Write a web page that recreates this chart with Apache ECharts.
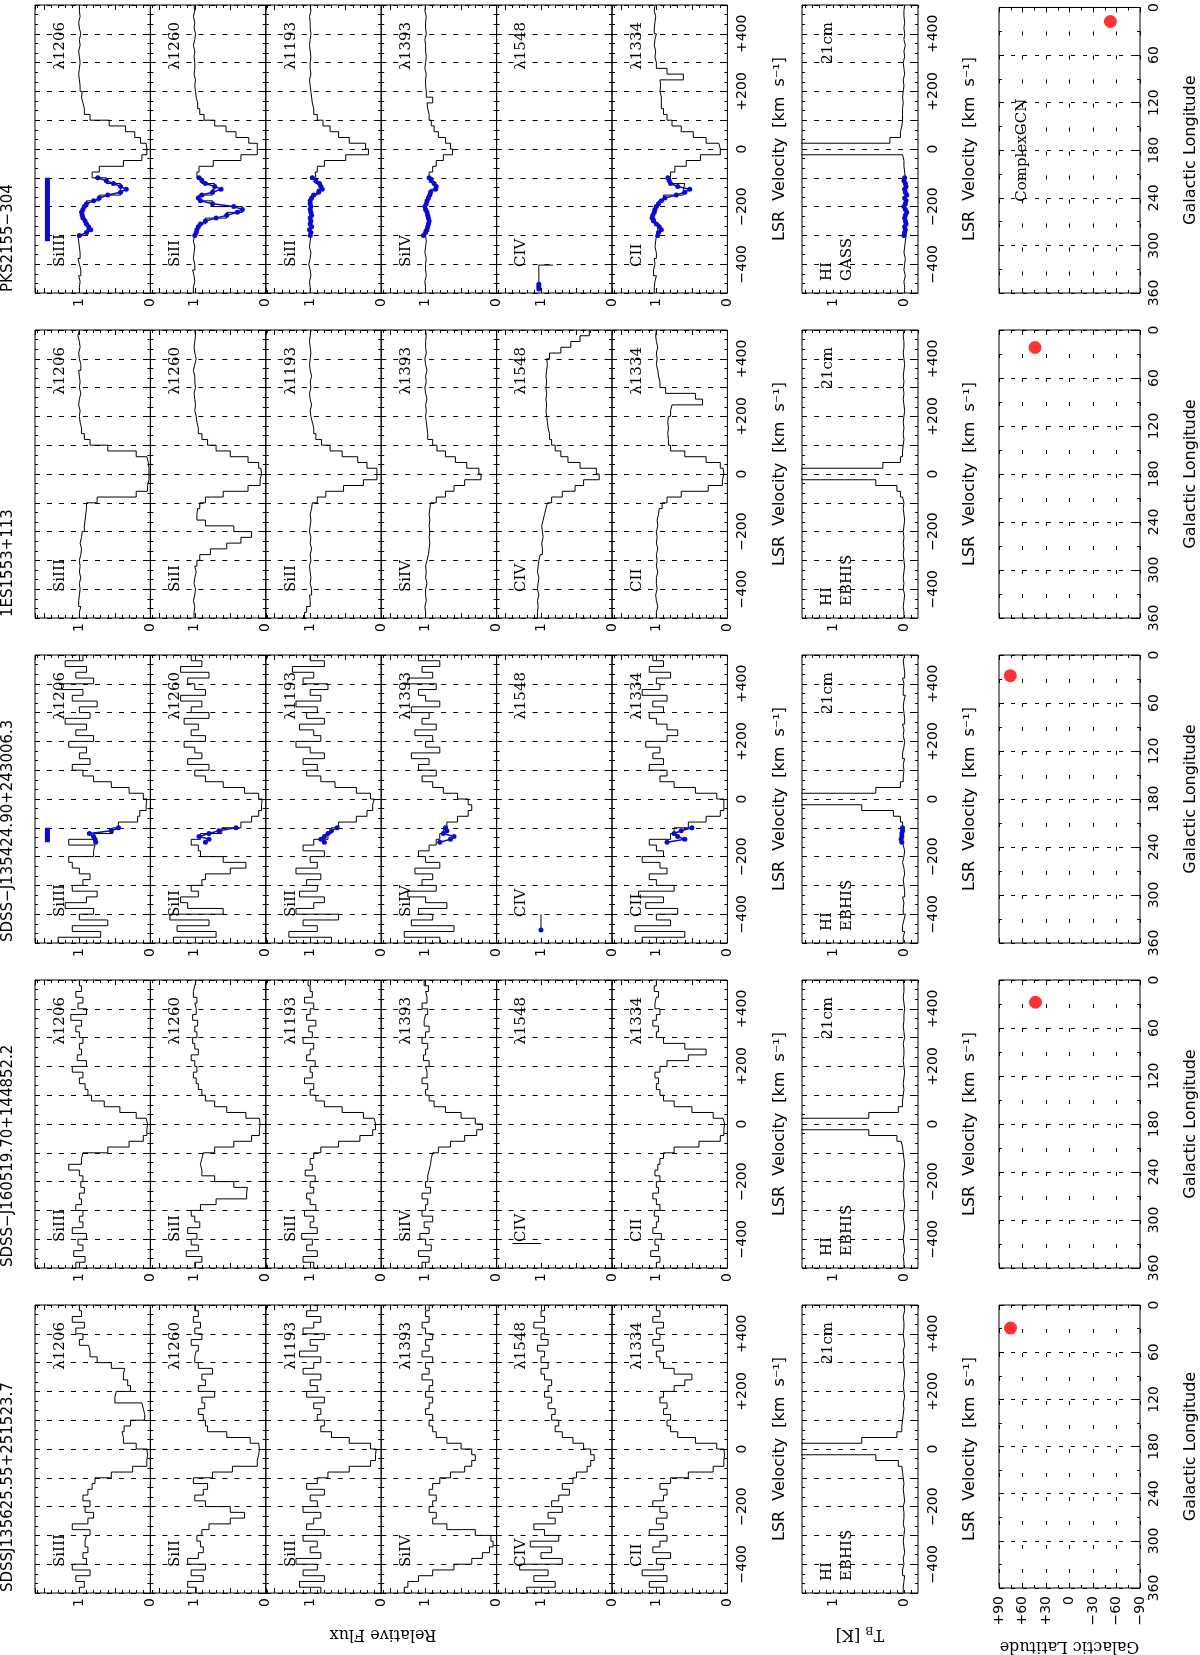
<!DOCTYPE html>
<html><head><meta charset="utf-8">
<script src="https://cdn.jsdelivr.net/npm/echarts@6/dist/echarts.min.js"></script>
<style>html,body{margin:0;padding:0;background:#fff}#c{width:1200px;height:1655px}</style>
</head><body><div id="c"></div>
<script>
// ---------------- DATA ----------------
const velocityBins = [-490,-470,-450,-430,-410,-390,-370,-350,-330,-310,-290,-270,-250,-230,-210,-190,-170,-150,-130,-110,-90,-70,-50,-30,-10,10,30,50,70,90,110,130,150,170,190,210,230,250,270,290,310,330,350,370,390,410,430,450,470,490];
const binHalfWidth = 10;
const sightlineNames = ['PKS2155\u2212304','1ES1553+113','SDSS\u2212J135424.90+243006.3','SDSS\u2212J160519.70+144852.2','SDSSJ135625.55+251523.7'];
const ionNames = ['SiIII','SiII','SiII','SiIV','CIV','CII'];
const ionWaves = ['\u03bb1206','\u03bb1260','\u03bb1193','\u03bb1393','\u03bb1548','\u03bb1334'];
const hiSurveys = ['GASS','EBHIS','EBHIS','EBHIS','EBHIS'];
const galLongitude = [17.7, 21.9, 25.9, 27.8, 29.3];
const galLatitude = [-52.2, 44.0, 75.6, 43.4, 75.3];
const velTickLabels = {'-400':'\u2212400','-200':'\u2212200','0':'0','200':'+200','400':'+400'};
const latTickLabels = {'90':'+90','60':'+60','30':'+30','0':'0','-30':'\u221230','-60':'\u221260','-90':'\u221290'};

// PKS2155-304
const pksSiIII = [1.0,0.99,1.01,0.98,1.0,1.02,0.99,1.0,1.01,1.02, 0.9,0.87,0.92,0.96,0.95,0.9,0.72,0.42,0.42,0.62, 0.82,0.72,0.38,0.12,0.05,0.06,0.14,0.22,0.35,0.58, 0.85,0.93,0.95,0.97,0.96,0.99,1.0,1.01,1.0,0.99, 1.0,1.01,0.99,1.0,0.98,1.0,1.01,0.99,1.0,1.0];
const pksSiII1260 = [1.02,1.0,1.01,1.03,1.0,1.02,1.01,1.0,1.02,1.0, 0.98,0.95,0.85,0.55,0.33,0.75,0.95,0.75,0.72,0.9, 0.97,0.94,0.74,0.35,0.12,0.12,0.24,0.42,0.56,0.72, 0.87,0.93,0.96,0.98,0.99,1.0,0.99,1.01,1.0,1.0, 1.01,1.0,1.02,1.0,0.99,1.01,1.0,1.02,1.0,1.01];
const pksSiII1193 = [1.0,1.01,0.99,1.0,1.02,1.0,0.99,1.01,1.0,0.99, 1.0,0.98,1.0,0.99,1.0,1.0,0.98,0.9,0.84,0.92, 0.93,0.9,0.8,0.5,0.18,0.22,0.45,0.6,0.72,0.82, 0.9,0.95,0.97,0.98,0.99,1.0,1.01,0.99,1.0,1.0, 0.99,1.0,1.01,1.0,0.99,1.0,1.0,1.01,0.99,1.0];
const pksSiIV = [1.0,1.01,0.99,1.0,1.0,0.99,1.01,1.0,0.99,1.0, 1.02,0.97,0.95,0.97,1.0,0.99,0.97,0.93,0.86,0.9, 0.95,0.9,0.85,0.75,0.62,0.65,0.72,0.82,0.88,0.92, 0.95,0.97,0.98,0.9,0.99,1.0,1.0,0.99,1.01,1.0, 0.99,1.0,1.0,1.01,0.99,1.0,1.0,0.99,1.01,1.0];
const pksCII = [1.03,1.02,1.0,1.04,1.02,1.03,1.0,1.02,1.01,1.0, 0.98,0.96,1.02,1.05,1.02,0.97,0.9,0.62,0.6,0.8, 0.8,0.74,0.58,0.38,0.1,0.12,0.3,0.48,0.65,0.78, 0.85,0.9,0.93,0.93,0.95,0.94,0.95,0.62,0.85,1.0, 1.02,1.01,1.03,1.02,1.0,1.03,1.02,1.01,1.03,1.02];
const pksHI = [-0.01,0.0,-0.02,0.0,-0.01,-0.02,0.0,-0.01,-0.02,-0.03, -0.02,-0.03,-0.01,-0.03,-0.02,-0.04,-0.02,-0.03,-0.01,-0.02, -0.01,0.0,0.0,0.02,2.5,2.5,0.2,0.05,0.03,0.02, 0.02,0.02,0.01,0.02,0.01,0.0,0.01,-0.01,0.0,0.01, -0.01,0.0,-0.02,0.0,-0.01,0.0,-0.01,0.0,0.0,-0.01];
const pksBlueVel = [-300,-290,-280,-270,-260,-250,-240,-230,-220,-210,-200,-190,-180,-170,-160,-150,-140,-130,-120,-110,-100];
const pksBlueSiIII = [1.0,0.9,0.84,0.87,0.9,0.92,0.95,0.96,0.97,0.95,0.93,0.9,0.8,0.72,0.6,0.42,0.34,0.42,0.52,0.62,0.74];
const pksBlueSiII1260 = [1.0,0.98,0.97,0.95,0.92,0.85,0.7,0.55,0.4,0.33,0.45,0.75,0.92,0.95,0.9,0.75,0.63,0.72,0.85,0.9,0.94];
const pksBlueSiII1193 = [1.0,0.99,1.01,0.98,1.0,0.99,1.0,0.98,0.99,1.0,0.99,1.0,1.0,0.98,0.95,0.88,0.83,0.85,0.87,0.92,0.97];
const pksBlueSiIV = [1.03,1.0,0.98,0.97,0.96,0.95,0.96,0.97,0.98,1.0,1.01,0.99,0.98,0.96,0.94,0.93,0.86,0.85,0.88,0.92,0.95];
const pksBlueCII = [0.98,0.97,0.93,0.96,1.0,1.04,1.06,1.05,1.03,1.02,1.0,0.97,0.93,0.88,0.72,0.6,0.53,0.7,0.8,0.82,0.84];
const pksBlueHI = [0.0,-0.01,-0.02,-0.01,-0.03,-0.02,-0.01,-0.02,-0.04,-0.02,0.0,-0.02,-0.03,-0.01,-0.04,-0.02,-0.01,-0.03,-0.02,0.0,-0.01];
const pksHvcBar = [-320,-100];
const pksCivMarkLine = [[0.83,-403],[1.03,-403],[1.03,-468]];
const pksCivMarkDot = [[1.03,-470],[1.03,-478],[1.03,-486]];

// 1ES1553+113
const esSiIII = [1.0,0.98,1.01,1.0,0.99,1.0,0.98,1.0,0.99,1.0, 0.98,0.97,0.99,0.97,0.96,0.93,0.92,0.91,0.9,0.9, 0.75,0.2,0.04,0.02,0.02,0.02,0.03,0.05,0.2,0.6, 0.85,0.93,0.97,0.99,1.0,0.99,1.01,1.0,0.98,1.0, 0.99,1.0,1.01,0.98,1.0,1.01,0.99,1.0,1.02,1.0];
const esSiII1260 = [1.01,1.0,1.02,1.0,0.99,1.01,1.0,0.98,1.0,0.97, 0.93,0.78,0.55,0.35,0.2,0.45,0.85,0.97,0.96,0.93, 0.85,0.6,0.25,0.08,0.06,0.07,0.1,0.25,0.5,0.7, 0.82,0.9,0.95,0.97,0.98,1.0,0.99,1.0,1.01,0.99, 1.0,1.0,1.02,1.0,0.98,1.0,1.01,1.0,0.99,1.0];
const esSiII1193 = [1.08,1.05,1.0,1.01,0.98,1.0,0.99,1.0,1.01,0.99, 1.0,0.98,1.0,0.99,1.01,1.0,0.99,1.0,0.98,0.97, 0.9,0.78,0.53,0.25,0.06,0.06,0.2,0.33,0.55,0.72, 0.84,0.92,0.95,0.97,0.99,1.0,0.98,1.0,1.01,0.99, 1.0,0.98,1.0,1.01,1.0,0.99,1.0,1.01,1.0,0.99];
const esSiIV = [1.0,1.01,0.99,1.0,1.0,0.98,1.0,0.99,1.0,0.98, 0.96,0.95,0.94,0.95,0.94,0.95,0.94,0.95,0.94,0.93, 0.85,0.72,0.6,0.45,0.22,0.25,0.42,0.58,0.72,0.84, 0.9,0.97,0.98,0.99,1.0,0.99,1.0,0.98,1.0,1.01, 0.99,1.0,0.98,1.0,1.01,0.99,1.0,1.0,0.99,1.0];
const esCIV = [1.05,1.04,1.05,1.03,1.05,1.04,1.03,1.05,1.04,1.03, 1.01,0.98,0.99,0.97,0.98,0.99,0.97,0.95,0.93,0.91, 0.85,0.7,0.52,0.4,0.18,0.22,0.45,0.62,0.72,0.8, 0.85,0.88,0.9,0.91,0.92,0.93,0.92,0.93,0.92,0.93, 0.92,0.93,0.92,0.91,0.92,0.88,0.72,0.58,0.45,0.32];
const esCII = [1.0,0.98,1.0,1.01,0.99,1.0,1.0,0.98,1.0,0.99, 1.0,0.98,1.0,0.99,1.0,0.98,0.99,0.97,0.96,0.92, 0.85,0.65,0.27,0.07,0.05,0.06,0.1,0.3,0.6,0.8, 0.83,0.84,0.83,0.84,0.83,0.8,0.78,0.35,0.45,0.87, 0.95,0.97,0.98,1.0,0.99,1.0,0.98,1.0,1.01,1.0];
const esHI = [0.0,0.01,0.0,-0.01,0.01,0.0,0.01,0.0,-0.01,0.0, 0.01,0.0,0.01,0.0,0.01,0.0,-0.01,0.0,0.01,0.0, 0.02,0.05,0.1,0.4,2.5,2.5,0.3,0.05,0.02,0.01, 0.0,0.01,0.0,0.01,0.0,-0.01,0.0,0.01,0.0,0.01, 0.0,0.01,0.0,-0.01,0.0,0.01,0.0,0.0,0.01,0.0];

// SDSS-J135424.90+243006.3
const j1354SiIII = [1.3,0.7,1.1,0.6,1.0,0.8,1.2,0.9,0.75,1.1, 0.95,0.85,1.0,1.1,1.15,0.8,0.78,1.15,0.8,0.53, 0.45,0.18,0.15,0.06,0.05,0.1,0.3,0.55,0.8,0.95, 1.1,0.85,1.0,0.9,1.15,0.8,1.05,0.9,1.2,0.85, 1.0,0.75,1.1,0.95,1.25,0.8,1.05,0.9,1.2,0.95];
const j1354SiII1260 = [1.3,0.7,1.25,0.8,1.35,0.6,1.1,1.2,0.95,1.05, 0.9,0.85,0.5,0.28,0.6,0.92,0.95,1.05,0.92,0.62, 0.35,0.2,0.1,0.06,0.05,0.1,0.3,0.6,0.85,1.0, 0.8,1.1,0.9,1.0,1.15,0.85,1.05,0.95,1.15,0.8, 1.05,0.9,1.2,0.85,1.0,1.1,0.8,1.2,0.9,1.05];
const j1354SiII1193 = [0.7,1.3,0.9,1.1,0.6,1.2,0.95,0.8,1.15,0.9, 1.05,0.85,1.2,0.9,1.0,0.8,1.1,0.95,0.75,0.7, 0.6,0.35,0.2,0.12,0.1,0.15,0.35,0.65,0.85,1.05, 0.9,1.1,0.8,1.0,1.2,0.85,0.95,1.15,0.8,1.05, 0.9,1.2,0.85,1.0,0.75,1.1,0.95,1.25,0.8,1.0];
const j1354SiIV = [0.8,1.3,0.6,1.2,0.9,1.1,0.7,1.0,1.25,0.85, 1.05,0.9,1.15,0.8,1.0,1.1,0.95,0.85,0.8,0.75, 0.7,0.55,0.4,0.35,0.4,0.55,0.75,0.9,1.05,0.85, 1.1,0.95,1.2,0.8,1.0,0.9,1.15,0.85,1.05,0.95, 1.2,0.8,1.0,1.1,0.85,1.25,0.9,1.05,0.8,1.1];
const j1354CII = [1.2,0.6,1.3,0.8,1.0,0.7,1.15,0.9,1.25,0.75, 1.0,1.1,0.85,0.95,1.2,0.9,1.0,1.1,0.8,0.75, 0.55,0.3,0.1,0.05,0.05,0.15,0.45,0.75,0.95,0.85, 1.1,0.9,1.05,0.95,1.15,0.85,0.7,0.85,1.0,1.1, 0.9,1.05,0.85,1.2,0.95,1.0,0.8,1.1,0.9,1.05];
const j1354HI = [0.01,-0.01,0.02,0.0,-0.02,0.01,0.0,0.02,-0.01,0.0, 0.01,-0.01,0.0,0.02,0.0,-0.01,0.01,0.03,0.04,0.02, 0.02,0.05,0.15,0.6,2.5,2.5,0.4,0.05,0.01,0.0, 0.01,-0.01,0.02,0.0,-0.01,0.01,0.0,0.02,-0.01,0.0, 0.01,0.0,-0.02,0.01,0.0,0.02,-0.01,0.0,0.01,-0.01];
const j1354BlueVel = [-150,-140,-130,-120,-110,-100];
const j1354BlueSiIII = [0.77,0.78,0.8,0.86,0.55,0.45];
const j1354BlueSiII1260 = [0.85,0.8,0.94,0.8,0.66,0.42];
const j1354BlueSiII1193 = [0.8,0.85,0.8,0.75,0.7,0.62];
const j1354BlueSiIV = [0.8,0.65,0.6,0.75,0.7,0.72];
const j1354BlueCII = [0.85,0.6,0.7,0.75,0.65,0.5];
const j1354BlueHI = [0.03,0.04,0.03,0.03,0.02,0.02];
const j1354HvcBar = [-150,-100];
const j1354CivMarkLine = [[1.0,-400],[1.0,-452]];
const j1354CivMarkDot = [[1.0,-455]];

// SDSS-J160519.70+144852.2
const j1605SiIII = [1.05,0.92,1.08,0.95,1.02,0.9,1.1,0.95,1.0,0.95, 1.05,0.97,1.0,0.93,0.98,0.95,1.0,1.15,0.97,0.95, 0.6,0.3,0.1,0.05,0.04,0.06,0.2,0.43,0.65,0.83, 0.88,0.92,1.0,0.95,1.1,0.9,1.03,0.97,1.0,0.95, 1.0,1.05,0.97,1.12,0.9,1.02,0.95,1.05,0.97,1.0];
const j1605SiII1260 = [1.0,0.9,1.12,0.95,1.05,0.97,1.1,0.93,1.0,1.05, 0.92,0.7,0.27,0.26,0.45,0.72,0.9,0.92,0.9,0.88, 0.72,0.45,0.2,0.09,0.08,0.09,0.28,0.55,0.72,0.85, 0.9,0.95,0.98,1.02,0.97,1.0,1.05,0.95,1.0,1.03, 0.97,1.0,0.96,1.03,0.98,1.0,0.97,1.02,1.0,0.98];
const j1605SiII1193 = [0.95,1.1,0.9,1.05,0.97,1.12,0.9,1.0,0.95,1.08, 0.92,1.0,1.05,0.95,1.0,0.93,1.07,0.97,1.0,0.95, 0.85,0.6,0.3,0.12,0.08,0.1,0.25,0.55,0.8,0.92, 1.0,0.95,1.08,0.97,1.0,0.93,1.05,1.0,0.95,1.1, 0.97,1.02,0.92,1.05,1.0,0.95,1.08,0.97,1.0,1.03];
const j1605SiIV = [1.05,0.95,1.1,0.92,1.0,1.08,0.95,1.02,0.9,1.05, 1.0,0.97,1.05,0.93,1.0,0.97,0.95,0.93,0.92,0.9, 0.82,0.65,0.45,0.28,0.2,0.3,0.5,0.72,0.88,0.95, 1.0,0.97,1.05,0.98,1.0,0.95,1.03,1.0,0.97,1.05, 1.0,0.95,1.02,1.0,0.97,1.05,0.98,1.0,0.96,1.02];
const j1605CII = [1.0,0.95,1.08,0.97,1.02,0.93,1.05,1.0,0.97,1.03, 0.95,1.0,1.05,0.97,1.0,0.95,1.02,0.98,0.95,0.9, 0.75,0.4,0.1,0.05,0.04,0.06,0.2,0.5,0.75,0.9, 0.95,1.0,0.97,1.02,0.95,0.85,0.55,0.3,0.6,0.9, 1.0,0.97,1.05,1.0,0.95,1.02,1.0,0.97,1.03,1.0];
const j1605HI = [0.0,0.01,-0.01,0.0,0.01,0.0,-0.01,0.0,0.01,0.0, -0.01,0.0,0.01,0.0,0.0,0.01,0.0,-0.01,0.0,0.01, 0.02,0.04,0.1,0.5,2.5,2.5,0.5,0.08,0.02,0.01, 0.0,0.01,0.0,-0.01,0.0,0.01,0.0,0.0,0.01,-0.01, 0.0,0.01,0.0,0.0,-0.01,0.0,0.01,0.0,0.0,0.01];
const j1605CivMarkLine = [[1.0,-415],[1.4,-415]];

// SDSSJ135625.55+251523.7
const j1356SiIII = [1.0,0.93,1.05,0.85,1.1,0.9,0.95,0.88,0.92,0.9, 0.85,1.1,0.88,0.8,0.92,0.85,0.95,0.88,0.82,0.78, 0.55,0.25,0.05,0.04,0.05,0.2,0.38,0.4,0.37,0.28, 0.08,0.1,0.12,0.5,0.48,0.28,0.32,0.38,0.36,0.55, 0.75,0.85,0.87,1.0,0.95,1.05,0.93,1.1,0.97,1.0];
const j1356SiII1260 = [0.98,1.1,0.88,1.05,0.85,1.1,0.95,0.88,0.92,0.97, 0.9,0.8,0.5,0.3,0.5,0.85,1.0,0.88,0.82,1.02, 0.75,0.47,0.12,0.1,0.09,0.1,0.22,0.55,0.82,0.85, 0.88,0.95,0.86,0.9,0.72,0.95,0.85,0.9,0.75,0.95, 1.0,0.98,0.95,1.05,0.9,1.0,0.92,1.02,0.95,1.0];
const j1356SiII1193 = [0.85,1.15,0.8,1.1,0.9,1.2,0.85,1.0,0.9,1.1, 0.8,1.05,0.95,0.85,1.1,0.9,1.0,0.8,1.05,0.9, 0.75,0.45,0.15,0.08,0.07,0.15,0.45,0.7,0.85,0.8, 0.9,0.85,0.95,0.8,1.05,0.9,1.0,0.85,1.1,0.95, 0.85,1.15,0.9,1.0,0.8,1.1,0.95,0.85,1.05,0.9];
const j1356SiIV = [1.3,1.25,1.1,0.9,0.6,0.35,0.2,0.1,0.05,0.08, 0.3,0.7,0.9,0.85,0.95,0.9,0.85,0.95,0.9,0.8, 0.65,0.45,0.35,0.3,0.35,0.5,0.7,0.85,0.9,0.95, 0.9,1.0,0.95,0.9,1.0,0.95,0.9,1.05,0.95,1.0, 0.9,1.05,0.95,1.0,0.9,1.0,1.05,0.95,1.0,0.95];
const j1356CIV = [1.2,0.8,1.1,0.9,1.3,0.7,1.0,0.85,1.15,0.75, 0.95,1.1,0.8,0.9,0.7,0.85,0.75,0.6,0.7,0.55, 0.5,0.35,0.3,0.25,0.3,0.4,0.55,0.7,0.8,0.75, 0.85,0.8,0.9,0.85,0.95,0.9,0.85,0.95,1.0,0.9, 1.0,0.95,1.05,0.9,1.0,0.95,1.1,0.95,1.0,0.95];
const j1356CII = [0.9,1.1,0.85,1.2,0.9,1.0,0.8,1.05,0.95,0.85, 1.1,0.9,1.0,0.85,0.95,1.05,0.9,0.85,0.95,0.8, 0.55,0.2,0.05,0.04,0.05,0.15,0.45,0.7,0.8,0.85, 0.8,0.9,0.85,0.95,0.9,0.75,0.6,0.5,0.75,0.9, 0.95,1.0,0.9,1.05,0.95,1.0,0.9,1.05,0.95,1.0];
const j1356HI = [0.01,0.0,-0.01,0.02,0.0,0.01,-0.01,0.0,0.01,0.0, -0.01,0.01,0.0,0.0,0.01,-0.01,0.0,0.01,0.0,0.01, 0.02,0.03,0.08,0.4,2.5,2.5,0.6,0.1,0.03,0.02, 0.01,0.0,0.01,-0.01,0.0,0.01,0.0,-0.01,0.0,0.01, 0.0,0.01,-0.01,0.0,0.01,0.0,0.0,0.01,-0.01,0.0];

const complexLabel = {text:'ComplexGCN', lat:61, lon:180};

// --------------- LAYOUT ----------------
const ROW_TOP0 = 5, ROW_STEP = 325, ROW_H = 288;
const PANEL_LEFT0 = 35, PANEL_W = 115.4;
const HI_LEFT = 802, HI_W = 116;
const GAL_LEFT = 999, GAL_W = 146;
const BLUE = '#0a0ad2';
const SANS = 'DejaVu Sans', SERIF = 'DejaVu Serif';
const HVC_BAR_FLUX = 1.45;

const rows = [
  {spectra:[pksSiIII,pksSiII1260,pksSiII1193,pksSiIV,null,pksCII], hi:pksHI, blueVel:pksBlueVel,
   blue:[pksBlueSiIII,pksBlueSiII1260,pksBlueSiII1193,pksBlueSiIV,null,pksBlueCII], blueHI:pksBlueHI,
   bar:pksHvcBar, civLine:pksCivMarkLine, civDot:pksCivMarkDot},
  {spectra:[esSiIII,esSiII1260,esSiII1193,esSiIV,esCIV,esCII], hi:esHI},
  {spectra:[j1354SiIII,j1354SiII1260,j1354SiII1193,j1354SiIV,null,j1354CII], hi:j1354HI, blueVel:j1354BlueVel,
   blue:[j1354BlueSiIII,j1354BlueSiII1260,j1354BlueSiII1193,j1354BlueSiIV,null,j1354BlueCII], blueHI:j1354BlueHI,
   bar:j1354HvcBar, civLine:j1354CivMarkLine, civDot:j1354CivMarkDot},
  {spectra:[j1605SiIII,j1605SiII1260,j1605SiII1193,j1605SiIV,null,j1605CII], hi:j1605HI, civLine:j1605CivMarkLine},
  {spectra:[j1356SiIII,j1356SiII1260,j1356SiII1193,j1356SiIV,j1356CIV,j1356CII], hi:j1356HI}
];

const opt = {animation:false, backgroundColor:'#fff', grid:[], xAxis:[], yAxis:[], series:[], graphic:[]};

const noLine = {show:false, onZero:false};
function tick(len){ return {show:true, inside:true, length:len, lineStyle:{color:'#000', width:1}}; }
function minor(n,len){ return {show:true, splitNumber:n, length:len, lineStyle:{color:'#000', width:1}}; }
const near = (a,b)=>Math.abs(a-b)<1e-6;

function fluxAxis(gi,pos,labels){
  return {gridIndex:gi, type:'value', position:pos, min:0, max:1.625, interval:0.5, inverse:true,
    axisLine:noLine, axisTick:tick(5), minorTick:minor(5,3), splitLine:{show:false},
    axisLabel:{show:labels, rotate:90, margin:5, fontSize:14, fontFamily:SANS, color:'#000', showMaxLabel:false,
      formatter:v=>near(v,1)?'1':(near(v,0)?'0':'')}};
}
function hiAxis(gi,pos,labels){
  return {gridIndex:gi, type:'value', position:pos, min:-0.2, max:1.45, interval:0.1, inverse:true,
    axisLine:noLine, axisTick:tick(3), splitLine:{show:false},
    axisLabel:{show:labels, rotate:90, margin:5, fontSize:14, fontFamily:SANS, color:'#000', showMaxLabel:false, showMinLabel:false,
      formatter:v=>near(v,1)?'1':(near(v,0)?'0':'')}};
}
function velAxis(gi,pos,split,labels){
  return {gridIndex:gi, type:'value', position:pos, min:-500, max:500, interval:100,
    axisLine:noLine, axisTick:tick(5), minorTick:minor(3,3),
    splitLine:{show:split, lineStyle:{color:'#000', width:1, type:[5,7]}},
    axisLabel:{show:labels, rotate:90, margin:8, fontSize:14, fontFamily:SANS, color:'#000', showMinLabel:false, showMaxLabel:false,
      formatter:v=>velTickLabels[String(Math.round(v))]||''},
    name: labels ? 'LSR  Velocity  [km  s\u207b\u00b9]' : '', nameLocation:'middle', nameGap:44, nameRotate:90,
    nameTextStyle:{fontSize:16, fontFamily:SANS, color:'#000'}};
}
function latAxis(gi,pos,labels,split){
  return {gridIndex:gi, type:'value', position:pos, min:-90, max:90, interval:30, inverse:true,
    axisLine:noLine, axisTick:tick(5), minorTick:minor(2,3),
    splitLine:{show:split, lineStyle:{color:'#000', width:1, type:[4,20]}},
    axisLabel:{show:labels, rotate:90, margin:8, fontSize:14, fontFamily:SANS, color:'#000',
      formatter:v=>latTickLabels[String(Math.round(v))]||''},
    name: labels ? 'Galactic Latitude' : '', nameLocation:'middle', nameGap:50, nameRotate:180,
    nameTextStyle:{fontSize:16, fontFamily:SERIF, color:'#000'}};
}
function lonAxis(gi,pos,labels,split){
  return {gridIndex:gi, type:'value', position:pos, min:0, max:360, interval:60, inverse:true,
    axisLine:noLine, axisTick:tick(5), minorTick:minor(2,3),
    splitLine:{show:split, lineStyle:{color:'#000', width:1, type:[4,8]}},
    axisLabel:{show:labels, rotate:90, margin:7, fontSize:14, fontFamily:SANS, color:'#000'},
    name: labels ? 'Galactic Longitude' : '', nameLocation:'middle', nameGap:43, nameRotate:90,
    nameTextStyle:{fontSize:16, fontFamily:SANS, color:'#000'}};
}
function addGrid(left,top,w,h){
  opt.grid.push({left, top, width:w, height:h, show:true, borderColor:'#000', borderWidth:1, backgroundColor:'rgba(0,0,0,0)'});
  return opt.grid.length-1;
}
function stepData(vals){
  const out=[];
  vals.forEach((f,k)=>{ const v=velocityBins[k]; out.push([f, v-binHalfWidth],[f, v+binHalfWidth]); });
  return out;
}
function blackLine(xi,yi,data){
  opt.series.push({type:'line', xAxisIndex:xi, yAxisIndex:yi, data, symbol:'none', showSymbol:false,
    lineStyle:{color:'#000', width:1}, clip:true, silent:true, z:3});
}
function blueLine(xi,yi,vel,vals){
  opt.series.push({type:'line', xAxisIndex:xi, yAxisIndex:yi, data:vel.map((v,k)=>[vals[k],v]),
    symbol:'circle', symbolSize:5, showSymbol:true, itemStyle:{color:BLUE}, lineStyle:{color:BLUE, width:1.5}, clip:true, silent:true, z:5});
}
function txt(x,y,text,size,family,align,rot){
  opt.graphic.push({type:'text', x, y, rotation:rot, silent:true, z:10,
    style:{text, fontSize:size, fontFamily:family, fill:'#000', textAlign:align, textVerticalAlign:'middle', align, verticalAlign:'middle'}});
}

const last = rows.length-1;
let complexAxes = null;
rows.forEach((row,r)=>{
  const top = ROW_TOP0 + r*ROW_STEP;
  txt(8, top+ROW_H-1, sightlineNames[r], 15, SANS, 'left', Math.PI/2);
  for(let i=0;i<6;i++){
    const left = PANEL_LEFT0 + i*PANEL_W;
    const gi = addGrid(left, top, PANEL_W, ROW_H);
    const xi = opt.xAxis.length;
    opt.xAxis.push(fluxAxis(gi,'bottom',true), fluxAxis(gi,'top',false));
    const yi = opt.yAxis.length;
    opt.yAxis.push(velAxis(gi,'left',true,false), velAxis(gi,'right',false,i===5));
    if(row.spectra[i]) blackLine(xi,yi,stepData(row.spectra[i]));
    if(row.blue && row.blue[i]) blueLine(xi,yi,row.blueVel,row.blue[i]);
    if(i===0 && row.bar){
      opt.series.push({type:'line', xAxisIndex:xi, yAxisIndex:yi, data:row.bar.map(v=>[HVC_BAR_FLUX,v]),
        symbol:'none', lineStyle:{color:BLUE, width:5}, silent:true, z:5});
    }
    if(i===4 && row.civLine) blackLine(xi,yi,row.civLine);
    if(i===4 && row.civDot){
      opt.series.push({type:'line', xAxisIndex:xi, yAxisIndex:yi, data:row.civDot, symbol:'circle', symbolSize:5,
        itemStyle:{color:BLUE}, lineStyle:{color:BLUE, width:4}, silent:true, z:5});
    }
    txt(left+25, top+262, ionNames[i], 15, SERIF, 'left', Math.PI/2);
    txt(left+25, top+17, ionWaves[i], 15, SERIF, 'right', Math.PI/2);
  }
  {
    const gi = addGrid(HI_LEFT, top, HI_W, ROW_H);
    const xi = opt.xAxis.length;
    opt.xAxis.push(hiAxis(gi,'bottom',true), hiAxis(gi,'top',false));
    const yi = opt.yAxis.length;
    opt.yAxis.push(velAxis(gi,'left',true,false), velAxis(gi,'right',false,true));
    blackLine(xi,yi,stepData(row.hi));
    if(row.blueHI) blueLine(xi,yi,row.blueVel,row.blueHI);
    txt(HI_LEFT+26, top+17, '21cm', 15, SERIF, 'right', Math.PI/2);
    txt(HI_LEFT+25, top+276, 'HI', 15, SERIF, 'left', Math.PI/2);
    txt(HI_LEFT+45, top+276, hiSurveys[r], 15, SERIF, 'left', Math.PI/2);
  }
  {
    const gi = addGrid(GAL_LEFT, top, GAL_W, ROW_H);
    const xi = opt.xAxis.length;
    opt.xAxis.push(latAxis(gi,'bottom',r===last,true), latAxis(gi,'top',false,false));
    const yi = opt.yAxis.length;
    opt.yAxis.push(lonAxis(gi,'right',true,true), lonAxis(gi,'left',false,false));
    opt.series.push({type:'scatter', xAxisIndex:xi, yAxisIndex:yi, data:[[galLatitude[r], galLongitude[r]]],
      symbolSize:13, itemStyle:{color:'#ff0000'}, silent:true, z:6});
    if(r===0) complexAxes = {xAxisIndex:xi, yAxisIndex:yi};
  }
});

opt.graphic.push({type:'text', x:383, y:1634, rotation:Math.PI, silent:true,
  style:{text:'Relative Flux', fontSize:16, fontFamily:SERIF, fill:'#000', textAlign:'center', textVerticalAlign:'middle', align:'center', verticalAlign:'middle'}});
opt.graphic.push({type:'text', x:860, y:1634, rotation:Math.PI, silent:true,
  style:{text:'{a|T}{b|B}{a| [K]}', fill:'#000', textAlign:'center', textVerticalAlign:'middle', align:'center', verticalAlign:'middle',
    rich:{a:{fontSize:16, fontFamily:SERIF, fill:'#000'}, b:{fontSize:11, fontFamily:SERIF, fill:'#000', padding:[8,0,0,0]}}}});

const chart = echarts.init(document.getElementById('c'), null, {renderer:'canvas'});
chart.setOption(opt);
// place the "ComplexGCN" label through the galactic-map scales
const cp = chart.convertToPixel(complexAxes, [complexLabel.lat, complexLabel.lon]);
opt.graphic.push({type:'text', x:cp[0], y:cp[1], rotation:Math.PI/2, silent:true, z:10,
  style:{text:complexLabel.text, fontSize:15, fontFamily:SERIF, fill:'#000', textAlign:'center', textVerticalAlign:'middle', align:'center', verticalAlign:'middle'}});
chart.setOption({graphic: opt.graphic});
</script></body></html>
